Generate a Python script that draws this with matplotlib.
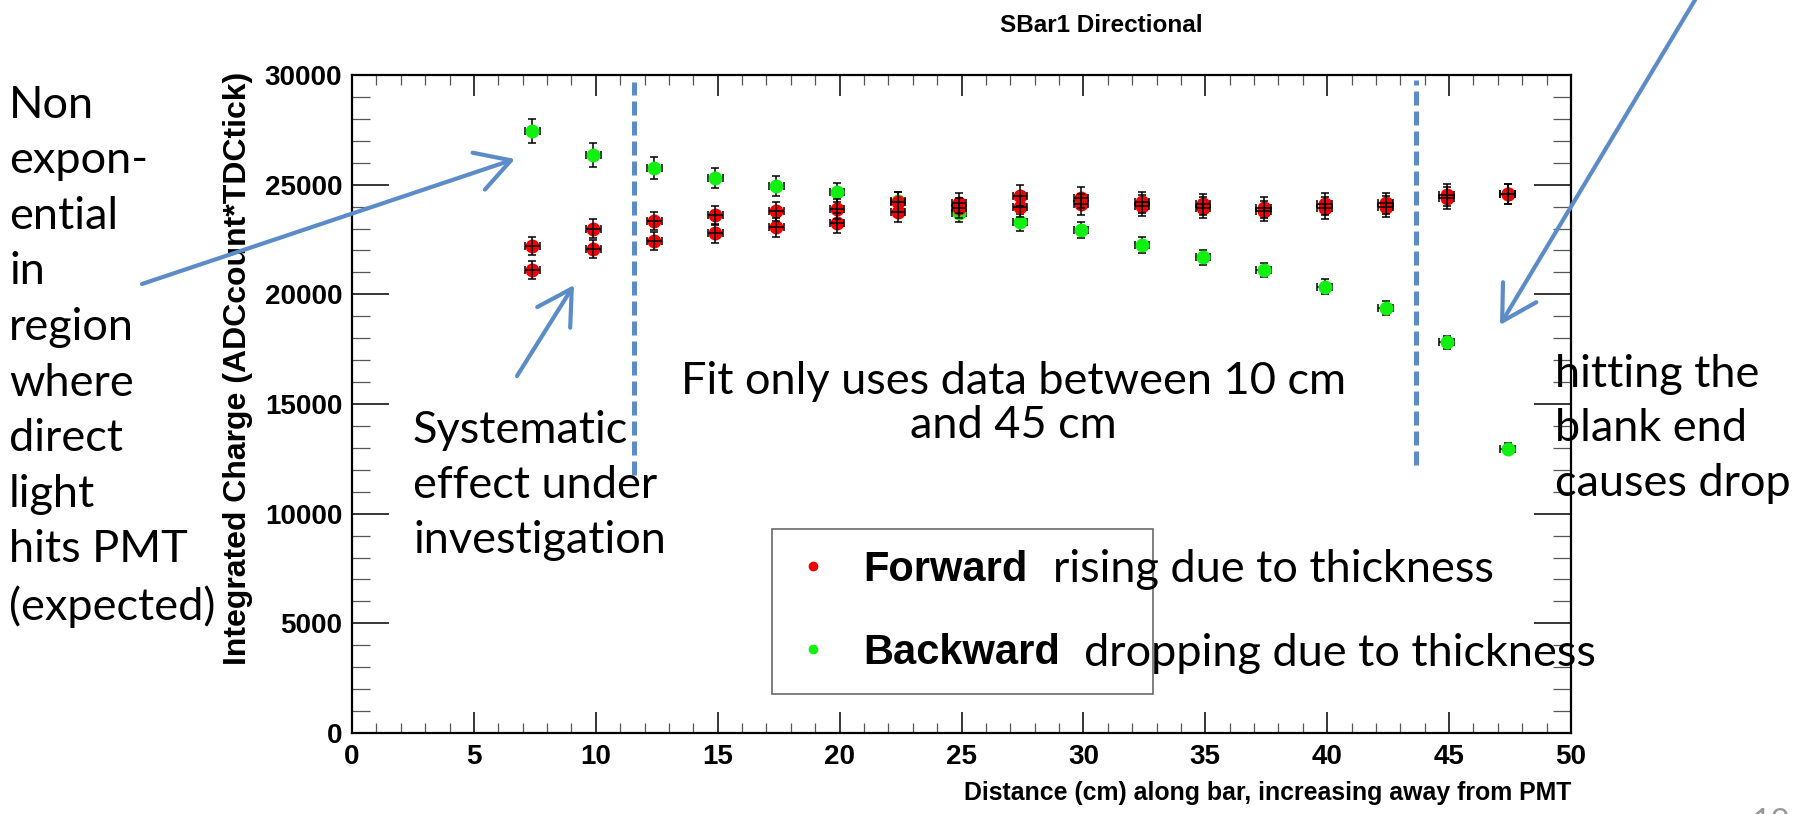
import matplotlib
matplotlib.use("Agg")
import matplotlib.pyplot as plt
from matplotlib.ticker import MultipleLocator
from matplotlib.lines import Line2D

W, H = 1802, 814

# Distance of the source from the PMT end (cm)
distance = [7.4, 9.9, 12.4, 14.9, 17.4, 19.9, 22.4, 24.9, 27.4,
            29.9, 32.4, 34.9, 37.4, 39.9, 42.4, 44.9, 47.4]
distance_err = [0.3, 0.3, 0.3, 0.3, 0.3, 0.3, 0.3, 0.3, 0.3,
                0.3, 0.3, 0.3, 0.3, 0.3, 0.3, 0.3, 0.3]

# Forward direction, two runs per position
forward_a = [22200, 23000, 23350, 23600, 23780, 23880, 24200, 24150, 24500,
             24400, 24200, 24100, 23950, 24100, 24150, 24550, 24570]
forward_b = [21100, 22060, 22420, 22780, 23050, 23250, 23750, 23950, 24000,
             24100, 24050, 23950, 23800, 23950, 24000, 24400, 24570]
forward_err = [400, 420, 420, 430, 430, 450, 450, 450, 480,
               480, 480, 480, 470, 500, 480, 500, 450]

# Backward direction
backward = [27450, 26350, 25750, 25300, 24950, 24650, 24250, 23700, 23280,
            22930, 22250, 21680, 21100, 20350, 19380, 17820, 12970]
backward_err = [550, 550, 500, 450, 450, 420, 400, 380, 380,
                380, 350, 330, 330, 330, 300, 300, 250]

# Limits of the region used in the fit
fit_low, fit_high = 11.57, 43.63
fit_ymin, fit_ymax = [11750, 12200], [29700, 29750]

ROOT_FONT = "Liberation Sans"
NOTE_FONT = "Lato"
BLUE = "#5b8cc8"


def fpx(x, y):
    # pixel position (from top left) -> figure fraction
    return x / W, 1 - y / H


fig = plt.figure(figsize=(W / 100, H / 100), dpi=100)
ax = fig.add_axes([352 / W, 1 - 733 / H, (1571 - 352) / W, (733 - 75) / H])

ax.errorbar(distance, backward, xerr=distance_err, yerr=backward_err,
            fmt="o", ms=9, mfc="#12f012", mec="#12f012",
            ecolor="black", elinewidth=1.1, capsize=3, capthick=1.1, zorder=3)
for series in (forward_a, forward_b):
    ax.errorbar(distance, series, xerr=distance_err, yerr=forward_err,
                fmt="o", ms=9, mfc="#f00000", mec="#f00000",
                ecolor="black", elinewidth=1.1, capsize=3, capthick=1.1,
                barsabove=True, zorder=4)

ax.set_xlim(0, 50)
ax.set_ylim(0, 30000)
ax.xaxis.set_major_locator(MultipleLocator(5))
ax.xaxis.set_minor_locator(MultipleLocator(1))
ax.yaxis.set_major_locator(MultipleLocator(5000))
ax.yaxis.set_minor_locator(MultipleLocator(1000))

for s in ax.spines.values():
    s.set_linewidth(1.6)
ax.tick_params(which="both", direction="in", top=True, right=True)
ax.tick_params(axis="x", which="major", length=15, width=1.1, pad=8)
ax.tick_params(axis="x", which="minor", length=7.5, width=0.9, color="#555555")
ax.tick_params(axis="y", which="major", length=26.5, width=1.1, pad=7)
ax.tick_params(axis="y", which="minor", length=13, width=0.9, color="#555555")
for lab in ax.get_xticklabels() + ax.get_yticklabels():
    lab.set_fontfamily(ROOT_FONT)
    lab.set_fontweight("bold")
    lab.set_fontsize(20)

ax.text((238 - 352) / (1571 - 352), 1.005, "Integrated Charge (ADCcount*TDCtick)",
        transform=ax.transAxes, rotation=90, ha="center", va="top",
        fontsize=23, fontweight="bold", family=ROOT_FONT)
ax.text(1.0, -0.0912, "Distance (cm) along bar, increasing away from PMT",
        transform=ax.transAxes, ha="right", va="center", fontsize=17.9,
        fontweight="bold", family=ROOT_FONT)
fig.text(*fpx(1101, 25), "SBar1 Directional", ha="center", va="center",
         fontsize=17.5, fontweight="bold", family=ROOT_FONT)

# fit window markers
for xv, y0, y1 in zip((fit_low, fit_high), fit_ymin, fit_ymax):
    ax.plot([xv, xv], [y0, y1], color=BLUE, lw=3.6, dashes=(2.8, 1.2),
            solid_capstyle="butt", zorder=2)

handles = [Line2D([], [], ls="", marker="o", ms=6, color="#f00000"),
           Line2D([], [], ls="", marker="o", ms=6, color="#12f012")]
leg = fig.legend(handles, ["Forward", "Backward"], loc="upper left",
                 bbox_to_anchor=(772 / W, 1 - 529 / H, 381 / W, 0),
                 mode="expand", borderaxespad=0, fancybox=False,
                 edgecolor="#444444", borderpad=0.5, handlelength=0.96,
                 handletextpad=0.72, labelspacing=1.03,
                 prop={"family": ROOT_FONT, "weight": "bold", "size": 30})
leg.get_frame().set_linewidth(1.2)

# (x, baseline of the last line), text, alignment, line spacing
notes = [
    ((9, 620), "Non\nexpon-\nential\nin\nregion\nwhere\ndirect\nlight\nhits PMT\n(expected)", "left", 1.44),
    ((413, 553), "Systematic\neffect under\ninvestigation", "left", 1.43),
    ((1013, 438), "Fit only uses data between 10 cm\nand 45 cm", "center", 1.1),
    ((1555, 496), "hitting the\nblank end\ncauses drop", "left", 1.41),
    ((1053, 582), "rising due to thickness", "left", 1.0),
    ((1084, 666), "dropping due to thickness", "left", 1.0),
]
for (x, y), txt, ha, ls in notes:
    fig.text(*fpx(x, y), txt, ha=ha, va="baseline", multialignment=ha,
             fontsize=32.5, family=NOTE_FONT, linespacing=ls, zorder=6)

arrows = [((142, 284), (515, 159)),
          ((517, 376), (574, 285)),
          ((1710, -25), (1500, 325))]
for (tx, ty), (hx, hy) in arrows:
    ax.annotate("", xy=(hx, H - hy), xycoords="figure pixels",
                xytext=(tx, H - ty), textcoords="figure pixels",
                annotation_clip=False, zorder=7,
                arrowprops=dict(arrowstyle="->, head_length=0.7, head_width=0.4",
                                mutation_scale=35, lw=3, color=BLUE,
                                shrinkA=0, shrinkB=0))

fig.text(*fpx(1771, 808), "12", ha="center", va="top", fontsize=24,
         color="#999999", family=NOTE_FONT)

fig.savefig("out.png", dpi=100)
